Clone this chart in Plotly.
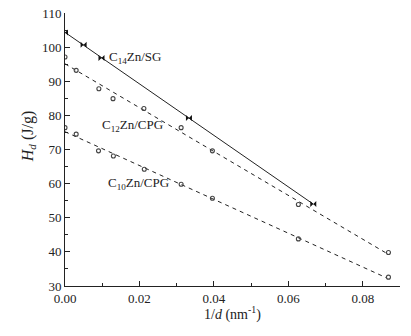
import numpy as np
import plotly.graph_objects as go

# C14Zn/SG (solid line, filled markers)
x_c14 = [0.0, 0.005, 0.0098, 0.0333, 0.0667]
y_c14 = [104.3, 100.7, 96.8, 79.2, 54.0]

# C12Zn/CPG (dashed line, open circles)
x_c12 = [0.0, 0.003, 0.0091, 0.0129, 0.0212, 0.0312, 0.0396, 0.0627, 0.0869]
y_c12 = [97.1, 93.2, 87.8, 84.9, 82.0, 76.4, 69.6, 53.9, 39.8]

# C10Zn/CPG (dashed line, open circles)
x_c10 = [0.0, 0.003, 0.009, 0.013, 0.0213, 0.0312, 0.0396, 0.0627, 0.0869]
y_c10 = [76.4, 74.5, 69.6, 68.1, 64.2, 59.8, 55.7, 43.8, 32.6]

# fitted line extents
fit_c14 = [0.0, 0.0667]
fit_c12 = [0.0, 0.0865]
fit_c10 = [0.0, 0.0865]

x_ticks = [0.00, 0.02, 0.04, 0.06, 0.08]
x_tick_labels = ["0.00", "0.02", "0.04", "0.06", "0.08"]
y_ticks = [30, 40, 50, 60, 70, 80, 90, 100, 110]

FONT = "Liberation Serif"
INK = "#222222"

def fit_line(xs, ys, ext):
    k, b = np.polyfit(xs, ys, 1)
    ex = np.array(ext)
    return ex, k * ex + b

fig = go.Figure()

for xs, ys, ext, dash in [(x_c12, y_c12, fit_c12, "dash"), (x_c10, y_c10, fit_c10, "dash"), (x_c14, y_c14, fit_c14, "solid")]:
    lx, ly = fit_line(xs, ys, ext)
    fig.add_trace(go.Scatter(x=lx, y=ly, mode="lines",
                             line=dict(color=INK, width=1, dash="4px,4px" if dash == "dash" else "solid"),
                             showlegend=False, hoverinfo="skip"))

fig.add_trace(go.Scatter(x=x_c12, y=y_c12, mode="markers",
                         marker=dict(symbol="circle-open", size=4, color="#444444", line=dict(width=1.1)),
                         showlegend=False))
fig.add_trace(go.Scatter(x=x_c10, y=y_c10, mode="markers",
                         marker=dict(symbol="circle-open", size=4, color="#444444", line=dict(width=1.1)),
                         showlegend=False))
fig.add_trace(go.Scatter(x=x_c14, y=y_c14, mode="markers",
                         marker=dict(symbol="bowtie", size=6, color="#111111"),
                         showlegend=False))

annots = [
    (0.0115, 97.0, "C<sub>14</sub>Zn/SG"),
    (0.0097, 77.0, "C<sub>12</sub>Zn/CPG"),
    (0.0112, 60.0, "C<sub>10</sub>Zn/CPG"),
]
for ax_, ay_, t in annots:
    fig.add_annotation(x=ax_, y=ay_, text=t, showarrow=False, xanchor="left", yanchor="middle",
                       borderpad=0, font=dict(family=FONT, size=13, color=INK))

# axis titles as paper annotations
fig.add_annotation(xref="paper", yref="paper", x=0, y=0.545, xshift=-37, textangle=-90,
                   xanchor="center", yanchor="middle", showarrow=False,
                   text="<i>H<sub>d</sub></i> (J/g)", font=dict(family=FONT, size=16, color=INK))
fig.add_annotation(xref="paper", yref="paper", x=0.5, y=0, yshift=-27,
                   xanchor="center", yanchor="middle", showarrow=False,
                   text="1/<i>d</i> (nm<sup>-1</sup>)", font=dict(family=FONT, size=14, color=INK))

fig.update_layout(
    width=411, height=336,
    margin=dict(l=65, r=11, t=13, b=50),
    paper_bgcolor="white", plot_bgcolor="white",
    font=dict(family=FONT, size=13, color=INK),
)
fig.update_xaxes(range=[0, 0.09], tickvals=x_ticks, ticktext=x_tick_labels, automargin=False,
                 ticks="inside", ticklen=5, tickcolor=INK, showline=True, linecolor=INK, linewidth=1,
                 showgrid=False, zeroline=False,
                 minor=dict(ticks="inside", ticklen=3, dtick=0.01, tickcolor=INK, showgrid=False),
                 tickfont=dict(family=FONT, size=13, color=INK))
fig.update_yaxes(range=[30, 110], tickvals=y_ticks, automargin=False,
                 ticks="inside", ticklen=5, tickcolor=INK, showline=True, linecolor=INK, linewidth=1,
                 showgrid=False, zeroline=False,
                 minor=dict(ticks="inside", ticklen=3, dtick=5, tickcolor=INK, showgrid=False),
                 tickfont=dict(family=FONT, size=13, color=INK))

fig.write_html("out.html", config={"displayModeBar": False},
               post_script="document.body.style.margin='0';document.body.style.overflow='hidden';")
